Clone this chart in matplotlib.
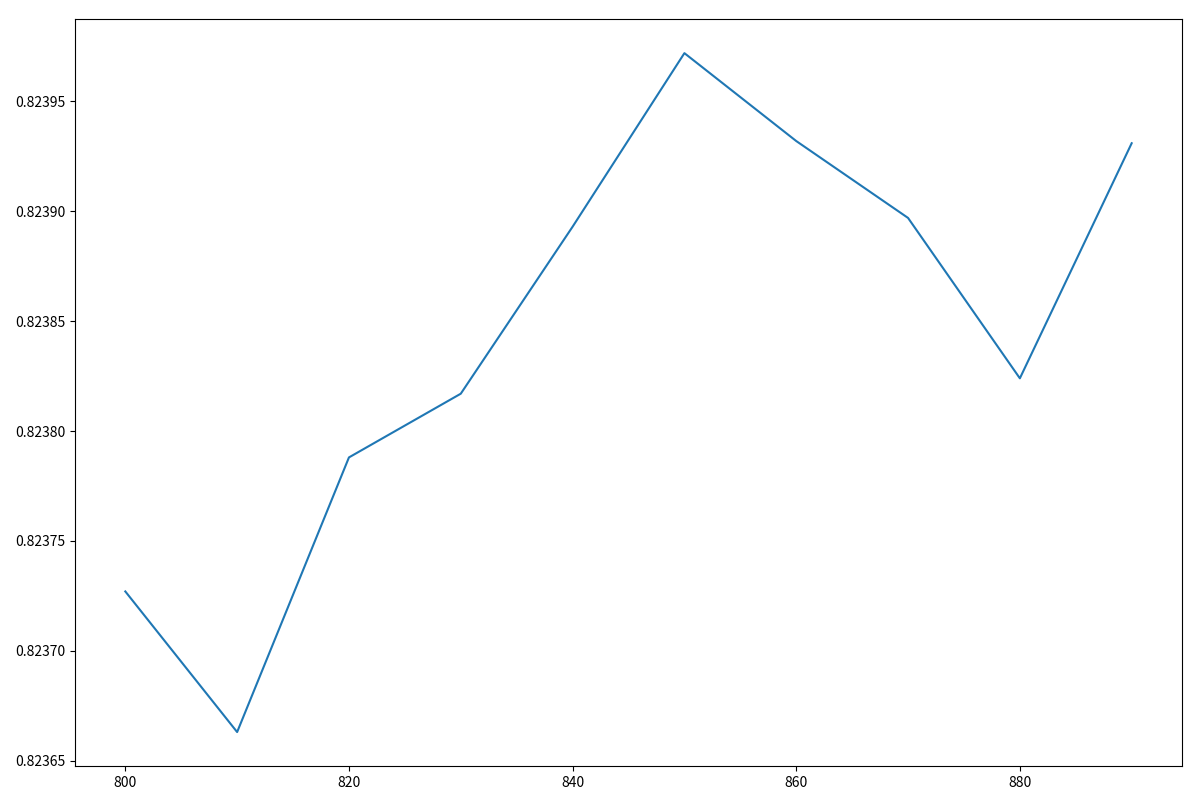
import matplotlib
matplotlib.use("Agg")
import matplotlib.pyplot as plt

plt.rcParams['font.family'] = ['Noto Sans CJK SC', 'DejaVu Sans']
plt.rcParams['axes.unicode_minus'] = False

# x values and the score
x_vals = [800, 810, 820, 830, 840, 850, 860, 870, 880, 890]
scores = [0.823727, 0.823663, 0.823788, 0.823817, 0.823893,
          0.823972, 0.823932, 0.823897, 0.823824, 0.823931]

fig, ax = plt.subplots(figsize=(12, 8), dpi=100)
ax.plot(x_vals, scores, color='#1f77b4', linewidth=1.5)
ax.set_xticks([800, 820, 840, 860, 880])
ax.set_yticks([0.82365, 0.82370, 0.82375, 0.82380, 0.82385, 0.82390, 0.82395])
ax.set_yticklabels(['0.82365', '0.82370', '0.82375', '0.82380',
                    '0.82385', '0.82390', '0.82395'])
fig.subplots_adjust(left=0.0625, right=0.985, top=0.976, bottom=0.0425)
fig.savefig("out.png")
